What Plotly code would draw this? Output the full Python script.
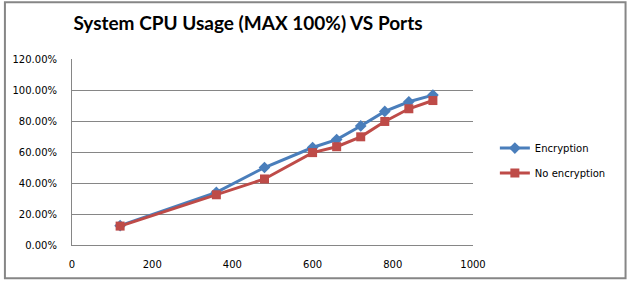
import plotly.graph_objects as go

ports = [120, 360, 480, 600, 660, 720, 780, 840, 900]
encryption = [0.125, 0.34, 0.50, 0.629, 0.68, 0.768, 0.862, 0.924, 0.967]
no_encryption = [0.122, 0.324, 0.426, 0.596, 0.634, 0.698, 0.797, 0.879, 0.932]
y_ticks = [0, 0.2, 0.4, 0.6, 0.8, 1.0, 1.2]
x_ticks = [0, 200, 400, 600, 800, 1000]

W, H = 629, 282
L, R, T, B = 69.5, 473, 59, 246

fig = go.Figure()
fig.add_trace(go.Scatter(
    x=ports, y=encryption, name="Encryption", mode="lines+markers",
    legendgroup="a",
    line=dict(color="#4A7EBB", width=3),
    marker=dict(symbol="diamond", size=9, color="#4A7EBB"),
))
fig.add_trace(go.Scatter(
    x=ports, y=no_encryption, name="No encryption", mode="lines+markers",
    legendgroup="b",
    line=dict(color="#BE4B48", width=3),
    marker=dict(symbol="square", size=9, color="#BE4B48"),
))

def px2paper_x(p):
    return (p - L) / (R - L)

def px2paper_y(p):
    return (B - p) / (B - T)

fig.add_shape(type="rect", xref="paper", yref="paper",
              x0=px2paper_x(2), x1=px2paper_x(626.5),
              y0=px2paper_y(279.5), y1=px2paper_y(2),
              line=dict(color="#868686", width=2), layer="below")

fig.update_layout(
    width=W, height=H,
    margin=dict(l=L, r=W - R, t=T, b=H - B, pad=0),
    paper_bgcolor="white", plot_bgcolor="white",
    title=dict(text="<b>System CPU Usage (MAX 100%) VS Ports</b>",
               x=(248) / W, xanchor="center", y=1 - 23 / H, yanchor="middle",
               font=dict(family="Lato, Open Sans, sans-serif", size=19, color="black")),
    legend=dict(x=px2paper_x(495), xanchor="left", y=px2paper_y(134), yanchor="top",
                font=dict(family="DejaVu Sans", size=10, color="black"),
                tracegroupgap=6, itemwidth=30, bgcolor="rgba(0,0,0,0)"),
    font=dict(family="DejaVu Sans", size=10, color="black"),
)
fig.update_xaxes(range=[0, 1000], tickvals=x_ticks, showgrid=False,
                 showline=True, linecolor="#868686", linewidth=1,
                 ticks="", ticklen=0, zeroline=False, ticklabelstandoff=10,
                 tickfont=dict(family="DejaVu Sans", size=10, color="black"))
fig.update_yaxes(range=[0, 1.2], tickvals=y_ticks, tickformat=".2%",
                 showgrid=True, gridcolor="#868686", gridwidth=1,
                 showline=True, linecolor="#868686", linewidth=1,
                 ticks="outside", ticklen=4, tickcolor="rgba(0,0,0,0)",
                 zeroline=False, ticklabelstandoff=8,
                 tickfont=dict(family="DejaVu Sans", size=10, color="black"))

fig.write_html("out.html")
